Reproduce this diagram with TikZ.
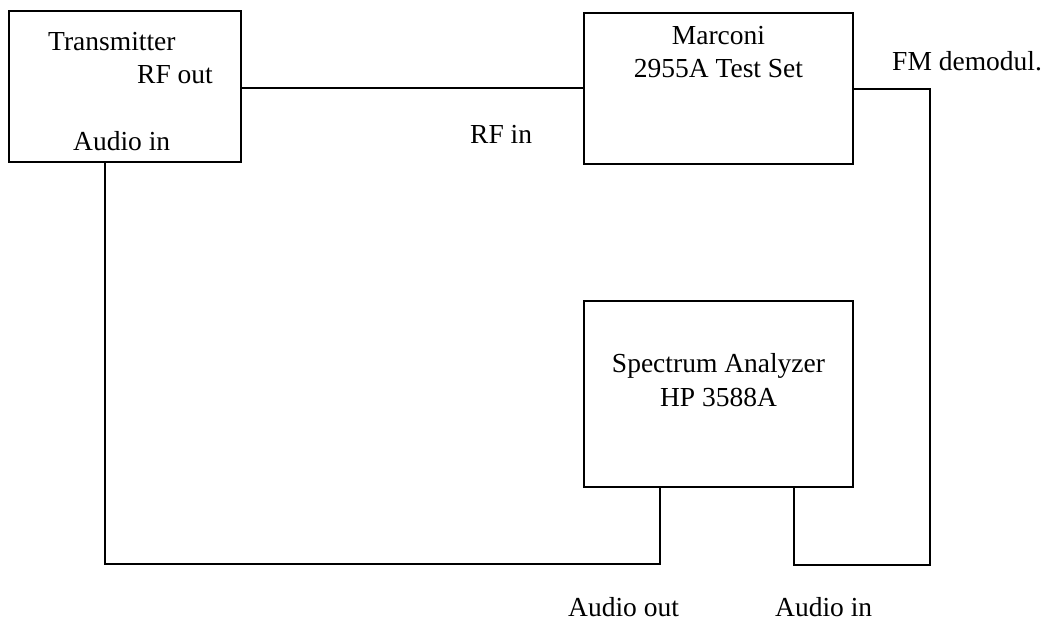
\documentclass[tikz,border=0pt]{standalone}
\usepackage{fontspec}
\setmainfont{Liberation Serif}
\begin{document}
\begin{tikzpicture}[x=1pt,y=-1pt,
  box/.style={draw,line width=1.6pt,rectangle,inner sep=0pt},
  lbl/.style={inner sep=0pt,font=\fontsize{27.5}{33}\selectfont},
  wire/.style={line width=1.8pt}]
\useasboundingbox (0,0) rectangle (1043,624);
% boxes
\node[box,minimum width=232pt,minimum height=151pt] (tx) at (125,86.5) {};
\node[box,minimum width=269pt,minimum height=151pt] (mc) at (718.5,88.5) {};
\node[box,minimum width=269pt,minimum height=186pt] (sa) at (718.5,394) {};
% labels
\node[lbl,anchor=base west] (txt1) at (48,50) {Transmitter};
\node[lbl,anchor=base west] (txt2) at (137,83) {RF out};
\node[lbl,anchor=base west] (txt3) at (73,150) {Audio in};
\node[lbl,anchor=base] (mc1) at (718.5,44) {Marconi};
\node[lbl,anchor=base] (mc2) at (718.5,77) {2955A Test Set};
\node[lbl,anchor=base west] (fm) at (892,70) {FM demodul.};
\node[lbl,anchor=base west] (rfin) at (470,143) {RF in};
\node[lbl,anchor=base] (sa1) at (718.5,372) {Spectrum Analyzer};
\node[lbl,anchor=base] (sa2) at (718.5,406) {HP 3588A};
\node[lbl,anchor=base west] (aout) at (568,616) {Audio out};
\node[lbl,anchor=base west] (ain) at (775,616) {Audio in};
% connector corners
\coordinate (rfA) at (241,88);
\coordinate (fmT) at (853,89);
\coordinate (auB) at (105,564);
\coordinate (aoB) at (660,564);
\coordinate (fmR) at (930,565);
\coordinate (fmB) at (794,565);
% connectors
\draw[wire] (tx.east |- rfA) -- (rfA -| mc.west);
\draw[wire] (tx.south -| auB) -- (auB) -- (aoB) -- (aoB |- sa.south);
\draw[wire] (mc.east |- fmT) -| (fmR) -- (fmB) -- (fmB |- sa.south);
\end{tikzpicture}
\end{document}
